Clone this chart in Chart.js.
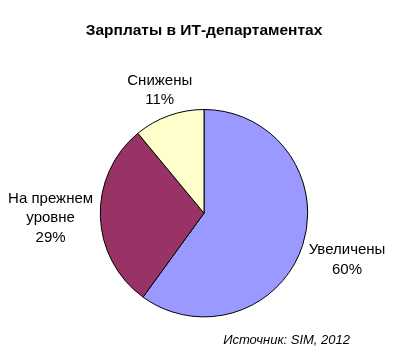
<!DOCTYPE html>
<html>
<head>
<meta charset="utf-8">
<script src="https://cdn.jsdelivr.net/npm/chart.js@4"></script>
<style>
  html, body { margin: 0; padding: 0; background: #fff; }
  #wrap { width: 400px; height: 352px; }
</style>
</head>
<body>
<div id="wrap"><canvas id="salaryChart"></canvas></div>
<script>
const categories = [['Увеличены'], ['На прежнем', 'уровне'], ['Снижены']];
const shares = [60, 29, 11];
const sliceColors = ['#9999FF', '#993366', '#FFFFCC'];

// labels outside the pie, centred on each slice's mid angle
const outsideLabels = {
    id: 'outsideLabels',
    afterDatasetsDraw(chart, args, opts) {
        const ctx = chart.ctx;
        const meta = chart.getDatasetMeta(0);
        ctx.save();
        ctx.font = opts.font;
        ctx.fillStyle = '#000';
        ctx.textAlign = 'center';
        ctx.textBaseline = 'middle';
        meta.data.forEach((arc, i) => {
            const p = arc.getProps(['x', 'y', 'startAngle', 'endAngle', 'outerRadius'], true);
            const mid = (p.startAngle + p.endAngle) / 2;
            const d = p.outerRadius * opts.distance[i];
            const cx = p.x + Math.cos(mid) * d;
            const cy = p.y + Math.sin(mid) * d;
            const lines = categories[i].concat([shares[i] + '%']);
            const lh = opts.lineHeight;
            const top = cy - (lines.length - 1) * lh / 2;
            lines.forEach((t, j) => ctx.fillText(t, cx, top + j * lh));
        });
        ctx.restore();
    }
};

const ctx = document.getElementById('salaryChart').getContext('2d');
new Chart(ctx, {
    type: 'pie',
    data: {
        labels: categories.map(c => c.join(' ')),
        datasets: [{
            data: shares,
            backgroundColor: sliceColors,
            borderColor: '#000',
            borderWidth: 1,
        }],
    },
    options: {
        responsive: true,
        maintainAspectRatio: false,
        animation: false,
        layout: { padding: { left: 58, right: 50, top: 0, bottom: 0 } },
        plugins: {
            legend: { display: false },
            tooltip: { enabled: false },
            title: {
                display: true,
                text: 'Зарплаты в ИТ-департаментах',
                color: '#000',
                font: { family: 'Arial, "Liberation Sans"', size: 15.5, weight: 'bold' },
                padding: { top: 21, bottom: 69.4 },
            },
            subtitle: {
                display: true,
                position: 'bottom',
                align: 'end',
                text: 'Источник: SIM, 2012',
                color: '#000',
                font: { family: 'Arial, "Liberation Sans"', size: 13, style: 'italic' },
                padding: { top: 15, bottom: 4 },
            },
            outsideLabels: {
                font: '15px Arial, "Liberation Sans"',
                lineHeight: 19.5,
                distance: [1.45, 1.48, 1.26],
            },
        },
    },
    plugins: [outsideLabels],
});
</script>
</body>
</html>
